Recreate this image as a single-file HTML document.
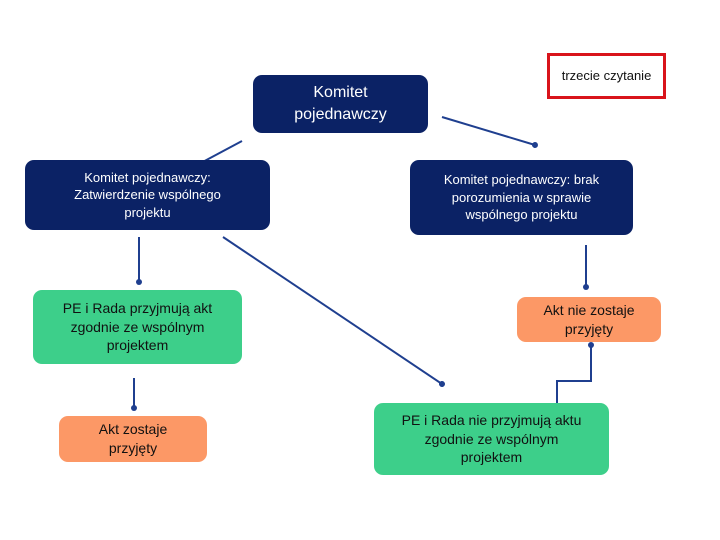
<!DOCTYPE html>
<html><head><meta charset="utf-8"><style>
body{margin:0;width:720px;height:540px;background:#fff;position:relative;overflow:hidden;font-family:"Liberation Sans",sans-serif}
.b{position:absolute;display:flex;align-items:center;justify-content:center;text-align:center;box-sizing:border-box;border-radius:9px;line-height:1.35}
.n{background:#0b2265;color:#fff;font-size:13px}
.g{background:#3dcf8a;color:#111;font-size:14px}
.o{background:#fc9866;color:#111;font-size:14px}
</style></head><body>
<svg width="720" height="540" style="position:absolute;left:0;top:0">
<defs><marker id="a" markerWidth="6" markerHeight="6" refX="3" refY="3" orient="auto"><circle cx="3" cy="3" r="1.5" fill="#1f3f8f"/></marker></defs>
<g stroke="#1f3f8f" stroke-width="2" fill="none" marker-end="url(#a)">
<line x1="242" y1="141" x2="154" y2="188"/>
<line x1="442" y1="117" x2="535" y2="145"/>
<line x1="139" y1="237" x2="139" y2="282"/>
<line x1="223" y1="237" x2="442" y2="384"/>
<line x1="586" y1="245" x2="586" y2="287"/>
<line x1="134" y1="378" x2="134" y2="408"/>
<polyline points="557,404 557,381 591,381 591,345"/>
</g>
</svg>
<div class="b n" style="left:253px;top:75px;width:175px;height:58px;font-size:16px">Komitet<br>pojednawczy</div>
<div class="b" style="left:547px;top:53px;width:119px;height:46px;border:3px solid #d9141b;border-radius:0;font-size:13px;color:#111">trzecie czytanie</div>
<div class="b n" style="left:25px;top:160px;width:245px;height:70px">Komitet pojednawczy:<br>Zatwierdzenie wspólnego<br>projektu</div>
<div class="b n" style="left:410px;top:160px;width:223px;height:75px">Komitet pojednawczy: brak<br>porozumienia w sprawie<br>wspólnego projektu</div>
<div class="b g" style="left:33px;top:290px;width:209px;height:74px">PE i Rada przyjmują akt<br>zgodnie ze wspólnym<br>projektem</div>
<div class="b o" style="left:517px;top:297px;width:144px;height:45px">Akt nie zostaje<br>przyjęty</div>
<div class="b o" style="left:59px;top:416px;width:148px;height:46px">Akt zostaje<br>przyjęty</div>
<div class="b g" style="left:374px;top:403px;width:235px;height:72px">PE i Rada nie przyjmują aktu<br>zgodnie ze wspólnym<br>projektem</div>
</body></html>
